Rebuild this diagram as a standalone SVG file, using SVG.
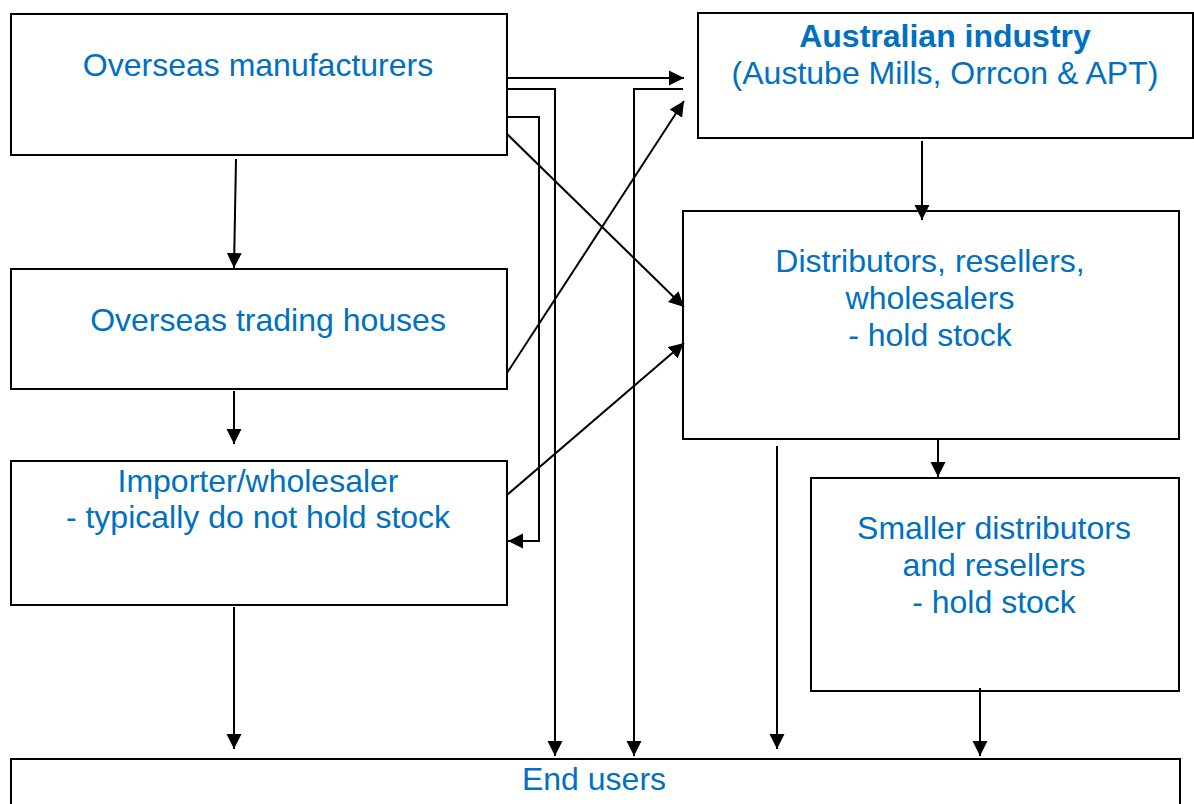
<svg xmlns="http://www.w3.org/2000/svg" width="1194" height="804" viewBox="0 0 1194 804">
<defs>
<marker id="ah" markerUnits="userSpaceOnUse" markerWidth="16" markerHeight="16" viewBox="0 0 16 16" refX="15" refY="8" orient="auto">
<path d="M0,0.5 L15,8 L0,15.5 Z" fill="#000"/>
</marker>
</defs>
<style>
.box{fill:#fff;stroke:#000;stroke-width:2}
.t{font-family:"Liberation Sans",Arial,sans-serif;font-size:32px;fill:#0070C0;text-anchor:middle}
.b{font-weight:bold}
.c{fill:none;stroke:#000;stroke-width:2}
.a{marker-end:url(#ah)}
</style>
<rect width="1194" height="804" fill="#fff"/>
<g id="overseas-manufacturers">
<rect class="box" x="11" y="14" width="496" height="141"/>
<text class="t" x="258" y="76">Overseas manufacturers</text>
</g>
<g id="overseas-trading-houses">
<rect class="box" x="11" y="269" width="496" height="120"/>
<text class="t" x="268" y="331">Overseas trading houses</text>
</g>
<g id="importer-wholesaler">
<rect class="box" x="11" y="461" width="496" height="144"/>
<text class="t" x="258" y="492">Importer/wholesaler</text>
<text class="t" x="258" y="528">- typically do not hold stock</text>
</g>
<g id="australian-industry">
<rect class="box" x="698" y="13" width="495" height="125"/>
<text class="t b" x="945" y="47">Australian industry</text>
<text class="t" x="945" y="84">(Austube Mills, Orrcon &amp; APT)</text>
</g>
<g id="distributors">
<rect class="box" x="683" y="211" width="496" height="228"/>
<text class="t" x="930" y="272">Distributors, resellers,</text>
<text class="t" x="930" y="309">wholesalers</text>
<text class="t" x="930" y="346">- hold stock</text>
</g>
<g id="smaller-distributors">
<rect class="box" x="811" y="478" width="368" height="213"/>
<text class="t" x="994" y="539">Smaller distributors</text>
<text class="t" x="994" y="576">and resellers</text>
<text class="t" x="994" y="613">- hold stock</text>
</g>
<g id="end-users">
<rect class="box" x="11" y="759" width="1169" height="60"/>
<text class="t" x="594" y="790">End users</text>
</g>
<g id="connectors">
<path class="c a" d="M236,159 L234,268"/>
<path class="c a" d="M234,391 L234,444"/>
<path class="c a" d="M234,607 L234,749"/>
<path class="c a" d="M507,78 L684,78"/>
<path class="c a" d="M507,89 L555,89 L555,756"/>
<path class="c a" d="M507,117 L539,117 L539,541 L508,541"/>
<path class="c a" d="M507,134 L684,307"/>
<path class="c a" d="M683,89 L634,89 L634,756"/>
<path class="c a" d="M507,373 L684,101"/>
<path class="c a" d="M507,495 L684,343"/>
<path class="c a" d="M922,141 L922,220"/>
<path class="c a" d="M938,440 L938,477"/>
<path class="c a" d="M777,446 L777,749"/>
<path class="c a" d="M980,688 L980,756"/>
</g>
</svg>
